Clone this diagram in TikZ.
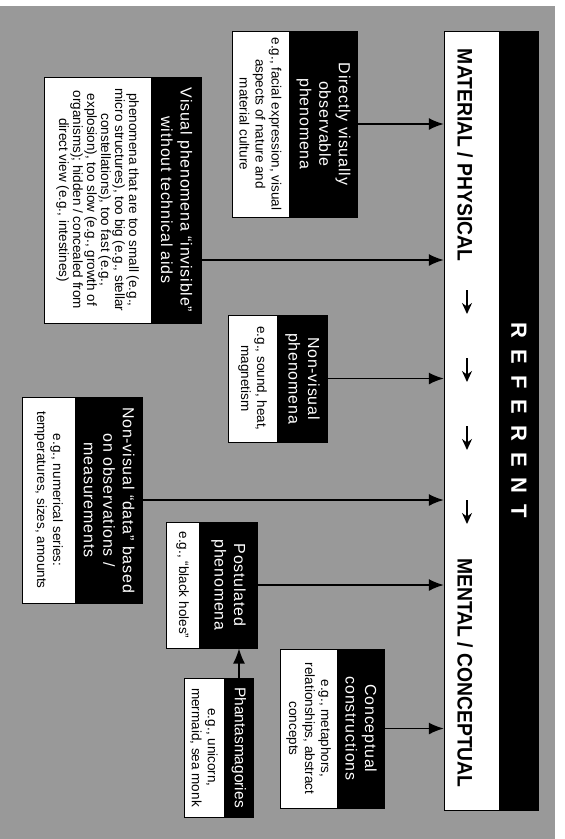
\documentclass[tikz,border=0pt]{standalone}
\usepackage{fontspec}
\setmainfont{Liberation Sans}
\newfontfamily\headfont[LetterSpace=5]{Liberation Sans}
\usetikzlibrary{arrows.meta,positioning}
\definecolor{bggray}{gray}{0.6}

\begin{document}
\begin{tikzpicture}[
 x=1pt,y=1pt,
 head/.style={draw,fill=black,text=white,align=center,inner sep=0pt,line width=1pt,
   font=\headfont\fontsize{16pt}{19.5pt}\selectfont},
 ex/.style={draw,fill=white,align=center,inner sep=0pt,line width=1pt,
   font=\fontsize{13.5pt}{16pt}\selectfont},
 arr/.style={-{Latex[length=15pt,width=12pt]},line width=1.6pt},
 small/.style={-{Stealth[length=11pt,width=10pt]},line width=1.6pt}
]
\useasboundingbox (0,0) rectangle (565,-839);
\fill[bggray] (0,-6) rectangle (555,-839);
\begin{scope}[rotate=-90,transform shape]
% referent band
\node[draw,fill=white,minimum width=779pt,minimum height=55pt,inner sep=0pt] (band) at (420.5,471.5) {};
\node[draw,fill=black,text=white,minimum width=779pt,minimum height=39pt,inner sep=0pt,above=0pt of band,
  font=\bfseries\fontsize{22pt}{22pt}\selectfont] (referent) {R\enspace E\enspace F\enspace E\enspace R\enspace E\enspace N\enspace T};
\node[font=\bfseries\fontsize{21pt}{21pt}\selectfont] (physical) at (155,465) {\scalebox{0.92}[1]{MATERIAL / PHYSICAL}};
\node[font=\bfseries\fontsize{21pt}{21pt}\selectfont] (mental) at (673,465) {\scalebox{0.92}[1]{MENTAL / CONCEPTUAL}};
\foreach \p in {302,370,438,512}
  \draw[small] (\p-12,467) -- (\p+12,467);
% boxes
\node[head,minimum width=186pt,minimum height=67pt] (direct) at (124,323.5) {Directly visually\\observable\\phenomena};
\node[ex,below=0pt of direct,minimum width=186pt,minimum height=57pt] (directex) {e.g., facial expression, visual\\aspects of nature and\\material culture};
\node[head,minimum width=246pt,minimum height=49pt] (invis) at (200,176.5) {Visual phenomena “invisible”\\without technical aids};
\node[ex,below=0pt of invis,minimum width=246pt,minimum height=107pt,font=\fontsize{13.5pt}{14pt}\selectfont] (invisex) {phenomena that are too small (e.g.,\\micro structures), too big (e.g., stellar\\constellations), too fast (e.g.,\\explosion), too slow (e.g., growth of\\organisms); hidden / concealed from\\direct view (e.g., intestines)};
\node[head,minimum width=127pt,minimum height=49pt] (nonvis) at (378.5,302.5) {Non-visual\\phenomena};
\node[ex,below=0pt of nonvis,minimum width=127pt,minimum height=49pt] (nonvisex) {e.g., sound, heat,\\magnetism};
\node[head,minimum width=206pt,minimum height=66pt] (data) at (500,109) {Non-visual “data” based\\on observations /\\measurements};
\node[ex,below=0pt of data,minimum width=206pt,minimum height=53pt] (dataex) {e.g., numerical series:\\temperatures, sizes, amounts};
\node[head,minimum width=126pt,minimum height=57pt] (postul) at (585,228.5) {Postulated\\phenomena};
\node[ex,below=0pt of postul,minimum width=126pt,minimum height=33pt] (postulex) {e.g., “black holes”};
\node[head,minimum width=139pt,minimum height=28pt,font=\fontsize{15.5pt}{18pt}\selectfont] (phant) at (747.5,239) {Phantasmagories};
\node[ex,below=0pt of phant,minimum width=139pt,minimum height=40pt] (phantex) {e.g., unicorn,\\mermaid, sea monk};
\node[head,minimum width=159pt,minimum height=46pt] (concept) at (728.5,361) {Conceptual\\constructions};
\node[ex,below=0pt of concept,minimum width=159pt,minimum height=57pt] (conceptex) {e.g., metaphors,\\relationships, abstract\\concepts};
% connectors
\coordinate (invisout) at (260,201);
\draw[arr] (direct.north) -- (direct.north |- band.south);
\draw[arr] (invisout) -- (invisout |- band.south);
\draw[arr] (nonvis.north) -- (nonvis.north |- band.south);
\draw[arr] (data.north) -- (data.north |- band.south);
\draw[arr] (postul.north) -- (postul.north |- band.south);
\draw[arr] (concept.north) -- (concept.north |- band.south);
\draw[arr] (phant.west) -- (phant.west -| postul.east);
\end{scope}
\end{tikzpicture}
\end{document}
